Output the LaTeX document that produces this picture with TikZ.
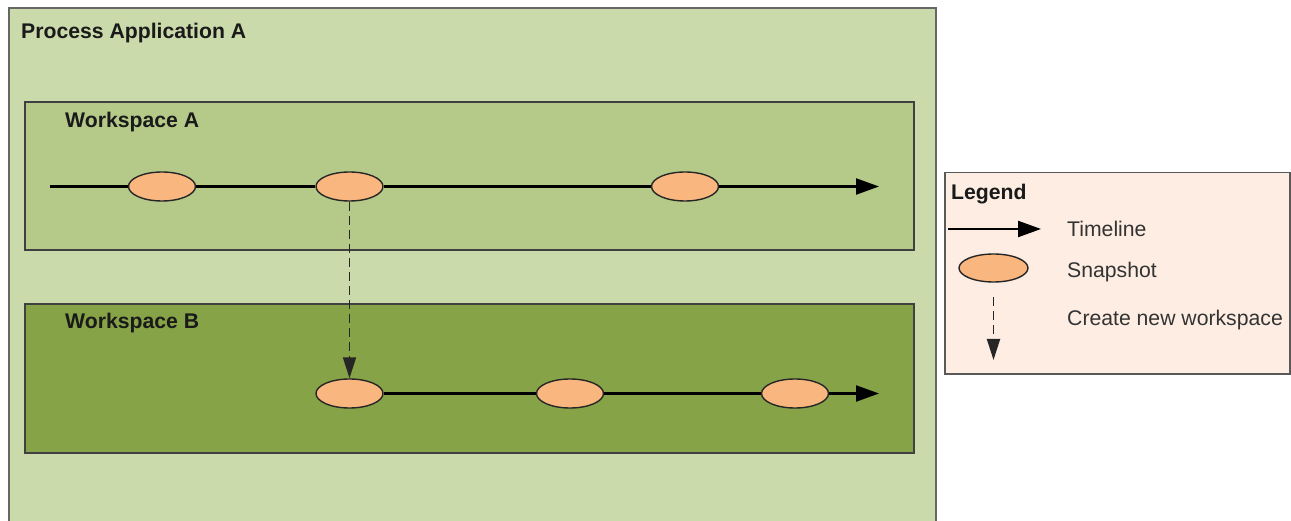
\documentclass[tikz,border=0pt]{standalone}
\usepackage{fontspec}
\setmainfont{Liberation Sans}
\usetikzlibrary{arrows.meta,shapes.geometric}
\definecolor{outerfill}{HTML}{CBDAAB}
\definecolor{wsafill}{HTML}{B5CA88}
\definecolor{wsbfill}{HTML}{86A447}
\definecolor{snapfill}{HTML}{F9B67F}
\definecolor{legfill}{HTML}{FDEDE2}
\definecolor{txt}{HTML}{1A1A1A}
\tikzset{
  box/.style={draw=black!75, line width=2pt},
  snap/.style={ellipse, draw=black!85, line width=1.4pt, fill=snapfill, minimum width=67pt, minimum height=29pt, inner sep=0pt},
  timeline/.style={draw=black, line width=2.3pt},
  timearrow/.style={timeline, -{Triangle[length=23pt,width=16pt]}},
  newws/.style={draw=black!85, line width=1.9pt, dash pattern=on 9pt off 5pt, -{Triangle[length=21pt,width=13pt]}},
  boldlabel/.style={anchor=west, inner sep=0pt, text=txt, font=\fontsize{21.2}{25}\selectfont\bfseries},
  leglabel/.style={anchor=west, inner sep=0pt, text=black!80, font=\fontsize{21.2}{25}\selectfont},
}
\begin{document}
\begin{tikzpicture}[x=1pt,y=-1pt]
\useasboundingbox (0,0) rectangle (1291,521);
\begin{scope}
\clip (0,0) rectangle (1291,521);
% outer box
\draw[box, draw=black!60, fill=outerfill] (8.5,8.5) rectangle (936,540);
\end{scope}
\node[boldlabel] (pa) at (21,33) {Process Application A};
% workspace A
\draw[box, fill=wsafill] (25,102) rectangle (914,250);
\node[boldlabel] (wsa) at (65,122) {Workspace A};
% workspace B
\draw[box, fill=wsbfill] (25,304) rectangle (914,453);
\node[boldlabel] (wsb) at (65,323) {Workspace B};
% timeline A
\coordinate (sa) at (50,186.5);
\coordinate (ea) at (879,186.5);
\node[snap] (a1) at (162,186.5) {};
\node[snap] (a2) at (349.5,186.5) {};
\node[snap] (a3) at (685,186.5) {};
\draw[timeline] (sa) -- (a1);
\draw[timeline] (a1) -- (a2);
\draw[timeline] (a2) -- (a3);
\draw[timearrow] (a3) -- (ea);
% timeline B
\coordinate (eb) at (879,393.5);
\node[snap] (b1) at (349.5,393.5) {};
\node[snap] (b2) at (570,393.5) {};
\node[snap] (b3) at (795,393.5) {};
\draw[timeline] (b1) -- (b2);
\draw[timeline] (b2) -- (b3);
\draw[timearrow] (b3) -- (eb);
% create new workspace
\draw[newws] (a2) -- (b1);
% legend
\draw[draw=black!65, line width=1.8pt, fill=legfill] (945,172.5) rectangle (1290,374);
\node[boldlabel] (legt) at (951,194) {Legend};
\coordinate (lt1) at (948,229);
\coordinate (lt2) at (1041,229);
\draw[timearrow] (lt1) -- (lt2);
\node[leglabel] (ltl) at (1067,229) {Timeline};
\node[snap, minimum width=69pt, minimum height=28pt] (ls) at (993.5,268) {};
\node[leglabel] (lsl) at (1067,272) {Snapshot};
\coordinate (ln1) at (993.5,297);
\coordinate (ln2) at (993.5,360);
\draw[newws] (ln1) -- (ln2);
\node[leglabel] (lnl) at (1067,320) {Create new workspace};
\end{tikzpicture}
\end{document}
